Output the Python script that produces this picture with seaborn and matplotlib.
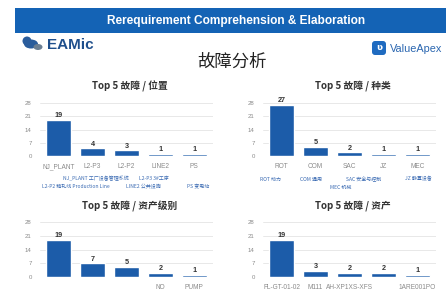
import matplotlib
matplotlib.use("Agg")
import numpy as np
import pandas as pd
import matplotlib.pyplot as plt
import seaborn as sns
from matplotlib.patches import Rectangle, FancyBboxPatch, Circle, Ellipse

# ---- data ----
location_labels = ["NJ_PLANT", "L2-P3", "L2-P2", "LINE2", "PS"]
location_counts = [19, 4, 3, 1, 1]
location_notes = [["NJ_PLANT 工厂设备管理系统", "L2-P3 3#工序"],
                  ["L2-P2 精轧线 Production Line", "LINE2 公共设施", "PS 变电站"]]

type_labels = ["ROT", "COM", "SAC", "JZ", "MEC"]
type_counts = [27, 5, 2, 1, 1]
type_notes = [["ROT 动力", "COM 通用", "SAC 安全与控制", "JZ 静置设备"],
              ["MEC 机械"]]

level_labels = ["", "", "", "NO", "PUMP"]
level_counts = [19, 7, 5, 2, 1]

asset_labels = ["FL-GT-01-02", "M111", "AH-XP1XS-XFS", "", "1ARE001PO"]
asset_counts = [19, 3, 2, 2, 1]

y_ticks = [0, 7, 14, 21, 28]

BAR = "#1c5ca9"
W, H = 446, 294
LATIN = ["Liberation Sans", "DejaVu Sans"]

sns.set_style("white")
plt.rcParams["font.family"] = ["Noto Sans CJK SC", "DejaVu Sans"]

fig = plt.figure(figsize=(W / 100, H / 100), dpi=100)
fig.patch.set_facecolor("white")


def px_axes(x0, y0, x1, y1):
    """Axes from pixel box (top-left origin)."""
    return fig.add_axes([x0 / W, 1 - y1 / H, (x1 - x0) / W, (y1 - y0) / H])


# ---- header band, logos and page title ----
bg = fig.add_axes([0, 0, 1, 1])
bg.set_xlim(0, W)
bg.set_ylim(H, 0)
bg.axis("off")
bg.add_patch(Rectangle((15, 8), W - 15, 25, color="#1463b5", lw=0))
bg.text(236, 21, "Rerequirement Comprehension & Elaboration", color="white",
        fontsize=8.6, fontweight="bold", ha="center", va="center", family=LATIN)

# EAMic logo
bg.add_patch(Ellipse((31, 44), 14, 9, color="#2a5d9c", lw=0))
bg.add_patch(Circle((27, 41), 4.5, color="#2a5d9c", lw=0))
bg.add_patch(Ellipse((38, 47), 9, 6, color="#6b7f93", lw=0))
bg.text(47, 45, "EAMic", color="#1f4f8c", fontsize=11, fontweight="bold",
        ha="left", va="center", family=LATIN)

# ValueApex logo
bg.add_patch(FancyBboxPatch((372, 41), 14, 14, boxstyle="round,pad=0,rounding_size=3",
                            color="#1f6bc0", lw=0))
bg.text(379, 48, "ʋ", color="white", fontsize=6.5, fontweight="bold",
        ha="center", va="center", family=["DejaVu Sans"])
bg.text(390, 48.5, "ValueApex", color="#2a66b0", fontsize=7.8,
        ha="left", va="center", family=LATIN)

bg.text(232, 62, "故障分析", color="#222222", fontsize=12.5,
        ha="center", va="center")


def draw_panel(box, labels, counts, title, title_y):
    x0, y0, x1, y1 = box
    ax = px_axes(x0, y0, x1, y1)
    df = pd.DataFrame({"pos": range(len(counts)), "count": counts})
    sns.barplot(data=df, x="pos", y="count", color=BAR, width=0.74,
                saturation=1, ax=ax)
    ax.set_ylim(0, 28)
    ax.set_yticks(y_ticks)
    ax.set_xticks(range(len(labels)))
    ax.set_xticklabels(labels, family=LATIN)
    ax.set_xlabel("")
    ax.set_ylabel("")
    ax.set_xlim(-0.55, len(counts) - 0.45)
    ax.grid(axis="y", color="#e4e4e4", lw=0.6)
    ax.set_axisbelow(True)
    sns.despine(ax=ax, left=True, bottom=True)
    ax.tick_params(axis="y", labelsize=4.3, labelcolor="#8a8a8a", length=0, pad=6)
    ax.tick_params(axis="x", labelsize=4.7, labelcolor="#8a8a8a", length=0, pad=5)
    for t in ax.get_yticklabels():
        t.set_family(LATIN)
    ax.bar_label(ax.containers[0], fontsize=5.2, fontweight="bold",
                 color="#333333", padding=0.5, family=LATIN)
    fig.text((x0 + x1) / 2 / W + 0.008, 1 - title_y / H, title, fontsize=7,
             fontweight="bold", color="#333333", ha="center", va="center")
    return ax


draw_panel((40, 103, 213, 156), location_labels, location_counts,
           "Top 5 故障 / 位置", 86)
draw_panel((263, 103, 436, 156), type_labels, type_counts,
           "Top 5 故障 / 种类", 86)
draw_panel((40, 222, 213, 277), level_labels, level_counts,
           "Top 5 故障 / 资产级别", 206)
draw_panel((263, 222, 436, 277), asset_labels, asset_counts,
           "Top 5 故障 / 资产", 206)

# category notes under the top panels
NOTE = "#3b6bb3"
note_pos = {
    "NJ_PLANT 工厂设备管理系统": (96, 179), "L2-P3 3#工序": (154, 179),
    "L2-P2 精轧线 Production Line": (76, 187), "LINE2 公共设施": (143, 187),
    "PS 变电站": (198, 187),
    "ROT 动力": (270, 179), "COM 通用": (311, 179), "SAC 安全与控制": (364, 179),
    "JZ 静置设备": (418, 179), "MEC 机械": (341, 187),
}
for row in location_notes + type_notes:
    for note in row:
        x, y = note_pos[note]
        bg.text(x, y, note, fontsize=3.6, color=NOTE, ha="center", va="center")

fig.savefig("out.png", dpi=100)
